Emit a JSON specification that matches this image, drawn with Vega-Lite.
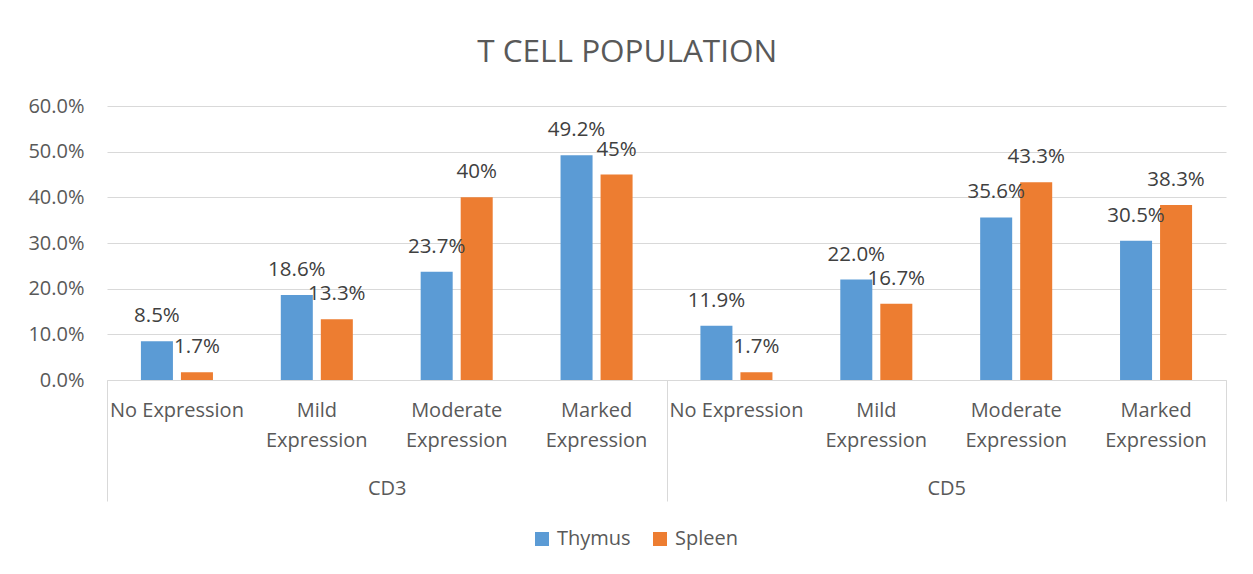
{
  "$schema": "https://vega.github.io/schema/vega-lite/v6.json",
  "autosize": {"type": "none"},
  "padding": {"left": 107, "top": 106, "right": 27, "bottom": 194},
  "width": 1119,
  "height": 274,
  "background": "white",
  "title": {
    "text": "T CELL POPULATION",
    "font": "Open Sans",
    "fontSize": 31.5,
    "fontWeight": "normal",
    "color": "#595959",
    "anchor": "middle",
    "frame": "bounds",
    "baseline": "alphabetic",
    "offset": 3
  },
  "config": {
    "view": {"stroke": null},
    "font": "Open Sans"
  },
  "data": {
    "values": [
      {"group": "CD3", "slot": "CD3|No Expression", "series": "Thymus", "value": 0.085, "label": "8.5%"},
      {"group": "CD3", "slot": "CD3|No Expression", "series": "Spleen", "value": 0.017, "label": "1.7%"},
      {"group": "CD3", "slot": "CD3|Mild Expression", "series": "Thymus", "value": 0.186, "label": "18.6%"},
      {"group": "CD3", "slot": "CD3|Mild Expression", "series": "Spleen", "value": 0.133, "label": "13.3%"},
      {"group": "CD3", "slot": "CD3|Moderate Expression", "series": "Thymus", "value": 0.237, "label": "23.7%"},
      {"group": "CD3", "slot": "CD3|Moderate Expression", "series": "Spleen", "value": 0.40, "label": "40%"},
      {"group": "CD3", "slot": "CD3|Marked Expression", "series": "Thymus", "value": 0.492, "label": "49.2%"},
      {"group": "CD3", "slot": "CD3|Marked Expression", "series": "Spleen", "value": 0.45, "label": "45%"},
      {"group": "CD5", "slot": "CD5|No Expression", "series": "Thymus", "value": 0.119, "label": "11.9%"},
      {"group": "CD5", "slot": "CD5|No Expression", "series": "Spleen", "value": 0.017, "label": "1.7%"},
      {"group": "CD5", "slot": "CD5|Mild Expression", "series": "Thymus", "value": 0.22, "label": "22.0%"},
      {"group": "CD5", "slot": "CD5|Mild Expression", "series": "Spleen", "value": 0.167, "label": "16.7%"},
      {"group": "CD5", "slot": "CD5|Moderate Expression", "series": "Thymus", "value": 0.356, "label": "35.6%"},
      {"group": "CD5", "slot": "CD5|Moderate Expression", "series": "Spleen", "value": 0.433, "label": "43.3%"},
      {"group": "CD5", "slot": "CD5|Marked Expression", "series": "Thymus", "value": 0.305, "label": "30.5%"},
      {"group": "CD5", "slot": "CD5|Marked Expression", "series": "Spleen", "value": 0.383, "label": "38.3%"}
    ]
  },
  "layer": [
    {
      "encoding": {
        "x": {
          "field": "slot",
          "type": "nominal",
          "sort": null,
          "scale": {"paddingInner": 0.485, "paddingOuter": 0.2425},
          "axis": {
            "orient": "bottom",
            "title": null,
            "labelExpr": "split(datum.value,'|')[1] == 'No Expression' ? 'No Expression' : split(split(datum.value,'|')[1],' ')",
            "labelAngle": 0,
            "labelFontSize": 20,
            "labelColor": "#595959",
            "labelLineHeight": 30,
            "labelPadding": 20,
            "ticks": false,
            "tickSize": 0,
            "domainColor": "#d9d9d9",
            "domainWidth": 1,
            "grid": false
          }
        },
        "xOffset": {
          "field": "series",
          "type": "nominal",
          "sort": ["Thymus", "Spleen"],
          "scale": {"paddingInner": 0.2, "paddingOuter": 0}
        },
        "y": {
          "field": "value",
          "type": "quantitative",
          "scale": {"domain": [0, 0.6], "nice": false},
          "axis": {
            "title": null,
            "format": ".1%",
            "values": [0, 0.1, 0.2, 0.3, 0.4, 0.5, 0.6],
            "labelFontSize": 20,
            "labelColor": "#595959",
            "labelPadding": 23,
            "ticks": false,
            "domain": false,
            "gridColor": "#d9d9d9",
            "gridWidth": 1
          }
        }
      },
      "layer": [
        {
          "mark": {"type": "bar"},
          "encoding": {
            "color": {
              "field": "series",
              "type": "nominal",
              "scale": {"domain": ["Thymus", "Spleen"], "range": ["#5B9BD5", "#ED7D31"]},
              "legend": {
                "title": null,
                "orient": "none",
                "direction": "horizontal",
                "legendX": 425,
                "legendY": 423,
                "symbolType": "square",
                "symbolSize": 196,
                "symbolStrokeWidth": 0,
                "labelFontSize": 20,
                "labelColor": "#595959",
                "labelOffset": 5,
                "columnPadding": 19
              }
            }
          }
        },
        {
          "mark": {"type": "text", "dy": -25, "baseline": "middle", "fontSize": 20.5, "color": "#404040"},
          "encoding": {"text": {"field": "label"}}
        }
      ]
    },
    {
      "mark": {"type": "rule", "opacity": 0},
      "encoding": {
        "x": {
          "field": "group",
          "type": "nominal",
          "sort": null,
          "scale": {"paddingInner": 0, "paddingOuter": 0},
          "axis": {
            "orient": "bottom",
            "title": null,
            "labelAngle": 0,
            "labelFontSize": 20,
            "labelColor": "#595959",
            "tickBand": "extent",
            "tickSize": 121,
            "tickColor": "#d9d9d9",
            "tickWidth": 1,
            "labelPadding": -23,
            "domain": false,
            "grid": false
          }
        }
      }
    }
  ],
  "resolve": {"scale": {"x": "independent"}, "axis": {"x": "independent"}}
}
